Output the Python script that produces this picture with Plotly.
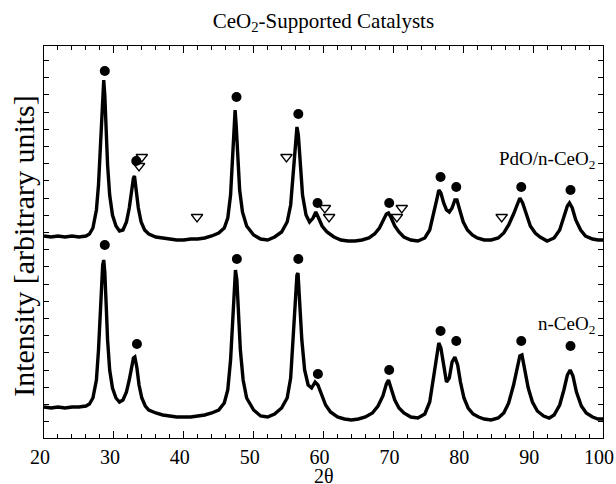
import plotly.graph_objects as go

# ---- data (arbitrary intensity units) ----
tt_pdo = [20.0, 21, 22, 23, 24, 25, 26, 26.5, 27.0, 27.5, 27.8, 28.0, 28.2, 28.4, 28.55, 28.7, 28.9, 29.1, 29.4, 29.8,
          30.3, 30.8, 31.3, 31.8, 32.2, 32.5, 32.8, 32.95, 33.2, 33.5, 33.9, 34.4, 35, 36, 37, 38, 39, 40, 41, 42,
          43, 44, 45, 45.8, 46.3, 46.7, 47.0, 47.2, 47.35, 47.5, 47.7, 48.0, 48.4, 49, 50, 51, 52, 53, 54, 54.8,
          55.3, 55.7, 56.0, 56.2, 56.4, 56.7, 57.0, 57.5, 58.0, 58.5, 58.9, 59.3, 59.8, 60.5, 61.5, 62.5, 63.5, 64.5,
          65.5, 66.5, 67.3, 68.0, 68.6, 69.0, 69.3, 69.7, 70.2, 70.8, 71.5, 72.5, 73.5, 74.5, 75.2, 75.8, 76.2, 76.5,
          76.8, 77.2, 77.6, 78.0, 78.4, 78.8, 79.1, 79.5, 80.0, 80.6, 81.3, 82.0, 83, 84, 85, 85.8, 86.5, 87.2, 87.7,
          88.1, 88.5, 89.0, 89.6, 90.3, 91, 92, 93, 93.8, 94.4, 94.9, 95.2, 95.6, 96.1, 96.8, 97.5, 98.5, 99.3, 100]
int_pdo = [202, 201, 202, 201, 202, 201, 202, 204, 210, 228, 253, 283, 318, 348, 358, 343, 308, 273, 243, 223,
           212, 207, 208, 216, 230, 246, 260, 262, 248, 230, 216, 208, 204, 201, 200, 199, 198, 198, 199, 199,
           200, 202, 205, 210, 220, 243, 283, 313, 328, 313, 283, 248, 226, 212, 203, 199, 198, 201, 206, 216,
           233, 268, 298, 311, 303, 273, 243, 223, 216, 220, 226, 220, 212, 206, 201, 198, 197, 197,
           198, 200, 204, 210, 218, 224, 225, 220, 212, 206, 201, 198, 197, 200, 208, 224, 238, 248,
           245, 235, 228, 226, 230, 238, 238, 228, 216, 208, 203, 200, 198, 198, 200, 205, 213, 224, 234,
           240, 235, 224, 212, 205, 201, 197, 200, 208, 220, 232, 235, 230, 218, 208, 202, 199, 198, 198]

tt_ceo2 = [20, 21, 22, 23, 24, 25, 26, 26.5, 27, 27.5, 27.8, 28.0, 28.2, 28.4, 28.55, 28.7, 28.9, 29.1, 29.4, 29.8,
           30.3, 30.8, 31.3, 31.8, 32.2, 32.5, 32.8, 33.0, 33.3, 33.6, 34.0, 34.5, 35, 36, 37, 38, 39, 40, 41, 42,
           43, 44, 45, 45.8, 46.3, 46.7, 47.0, 47.2, 47.4, 47.6, 47.8, 48.1, 48.5, 49, 50, 51, 52, 53, 54, 54.8,
           55.3, 55.7, 56.0, 56.2, 56.35, 56.6, 56.9, 57.3, 57.8, 58.3, 58.8, 59.2, 59.7, 60.3, 61, 62, 63, 64,
           65, 66, 67, 67.8, 68.5, 69.0, 69.3, 69.7, 70.2, 70.8, 71.5, 72.5, 73.5, 74.5, 75.2, 75.8, 76.2, 76.5,
           76.8, 77.2, 77.6, 78.0, 78.4, 78.8, 79.2, 79.6, 80.1, 80.7, 81.4, 82.2, 83, 84, 85, 85.8, 86.5, 87.2, 87.7,
           88.1, 88.4, 88.8, 89.3, 89.9, 90.6, 91.5, 92.3, 93, 93.8, 94.4, 94.9, 95.3, 95.7, 96.2, 96.9, 97.6, 98.5,
           99.3, 100]
int_ceo2 = [31, 30, 31, 30, 31, 31, 32, 34, 40, 58, 88, 123, 153, 173, 178, 166, 133, 98, 68, 50,
            40, 36, 38, 46, 58, 70, 80, 81, 70, 53, 40, 32, 28, 25, 23, 22, 21, 21, 21, 22,
            23, 25, 28, 35, 48, 78, 123, 153, 168, 158, 128, 88, 58, 40, 28, 22, 21, 24, 30, 40,
            60, 103, 143, 163, 165, 138, 98, 68, 53, 50, 56, 53, 43, 33, 26, 21, 19, 18,
            19, 21, 25, 32, 42, 54, 58, 50, 38, 30, 25, 21, 20, 24, 36, 63, 83, 95,
            90, 70, 56, 60, 76, 81, 73, 56, 40, 30, 24, 21, 19, 18, 20, 25, 35, 53, 71,
            82, 83, 68, 50, 36, 27, 22, 20, 23, 33, 48, 63, 68, 62, 46, 32, 25, 21,
            19, 19]

# reflection markers
ceo2_dots_pdo_x = [28.7, 33.2, 47.55, 56.4, 59.15, 69.4, 76.75, 79.0, 88.3, 95.35]
ceo2_dots_pdo_y = [367, 277, 341, 324, 235, 235, 261, 251, 251, 248]
pdo_tri_x = [33.6, 34.0, 41.9, 54.7, 60.2, 60.8, 70.5, 71.2, 85.5]
pdo_tri_y = [272, 281, 221, 281, 230, 221, 221, 230, 221]
ceo2_dots_x = [28.7, 33.3, 47.6, 56.4, 59.2, 69.4, 76.75, 79.0, 88.3, 95.35]
ceo2_dots_y = [193, 94, 179, 179, 64, 68, 107, 97, 97, 92]

x_ticks = [20, 30, 40, 50, 60, 70, 80, 90, 100]

FONT = "Liberation Serif"

fig = go.Figure()
fig.add_trace(go.Scatter(x=tt_pdo, y=int_pdo, mode="lines", line=dict(color="black", width=3.4), showlegend=False))
fig.add_trace(go.Scatter(x=tt_ceo2, y=int_ceo2, mode="lines", line=dict(color="black", width=3.4), showlegend=False))
fig.add_trace(go.Scatter(x=ceo2_dots_pdo_x + ceo2_dots_x, y=ceo2_dots_pdo_y + ceo2_dots_y, mode="markers",
                         marker=dict(symbol="circle", size=10, color="black"), showlegend=False))
fig.add_trace(go.Scatter(x=pdo_tri_x, y=pdo_tri_y, mode="markers",
                         marker=dict(symbol="triangle-down-open", size=10, color="black", line=dict(width=1.3)),
                         showlegend=False))
# invisible traces so the mirrored tick axes are drawn
fig.add_trace(go.Scatter(x=[20, 100], y=[0, 0], xaxis="x2", yaxis="y", mode="lines",
                         line=dict(width=0), hoverinfo="skip", showlegend=False))
fig.add_trace(go.Scatter(x=[20, 100], y=[0, 0], xaxis="x", yaxis="y2", mode="lines",
                         line=dict(width=0), hoverinfo="skip", showlegend=False))

fig.add_annotation(text="PdO/n-CeO<sub>2</sub>", x=1, xref="paper", xanchor="right", xshift=-6,
                   y=278, yref="y", yanchor="middle", showarrow=False, font=dict(family=FONT, size=19, color="black"))
fig.add_annotation(text="n-CeO<sub>2</sub>", x=1, xref="paper", xanchor="right", xshift=-6,
                   y=113, yref="y", yanchor="middle", showarrow=False, font=dict(family=FONT, size=19, color="black"))
fig.add_annotation(text="Intensity [arbitrary units]", textangle=-90, x=-0.036, xref="paper", xanchor="center",
                   y=0.49, yref="paper", yanchor="middle", showarrow=False,
                   font=dict(family=FONT, size=30, color="black"))
fig.add_annotation(text="2θ", x=0.5, xref="paper", xanchor="center",
                   y=-0.096, yref="paper", yanchor="middle", showarrow=False,
                   font=dict(family=FONT, size=20, color="black"))

minor_x = dict(dtick=2, tick0=20, ticks="inside", ticklen=4, tickwidth=1, tickcolor="black")

fig.update_layout(
    template="none",
    width=616, height=484,
    margin=dict(l=44, r=13, t=46, b=46, autoexpand=False),
    paper_bgcolor="white", plot_bgcolor="white",
    font=dict(family=FONT, size=21, color="black"),
    title=dict(text="CeO<sub>2</sub>-Supported Catalysts", x=0.525, xanchor="center", y=0.958, yanchor="middle",
               font=dict(family=FONT, size=21, color="black")),
    xaxis=dict(range=[20, 100], tickvals=x_ticks, ticktext=[str(v) for v in x_ticks], automargin=False,
               ticks="inside", ticklen=7, tickwidth=1, tickcolor="black", minor=minor_x,
               showline=True, linecolor="black", linewidth=1.3, mirror=True, showgrid=False, zeroline=False,
               ticklabelstandoff=1, ticklabelshift=-4, ticklabeloverflow="allow",
               tickfont=dict(family=FONT, size=20)),
    xaxis2=dict(range=[20, 100], overlaying="x", side="top", tickvals=x_ticks, showticklabels=False,
                ticks="inside", ticklen=7, tickwidth=1, tickcolor="black", minor=minor_x, automargin=False,
                showline=False, showgrid=False, zeroline=False),
    yaxis=dict(range=[0, 392], tick0=-0.9, dtick=17.2, ticks="inside", ticklen=5, tickwidth=1, tickcolor="black",
               showticklabels=False, showline=True, linecolor="black", linewidth=1.3, mirror=True,
               showgrid=False, zeroline=False, automargin=False),
    yaxis2=dict(range=[0, 392], overlaying="y", side="right", tick0=-0.9, dtick=17.2, ticks="inside", ticklen=5,
                tickwidth=1, tickcolor="black", showticklabels=False, showline=False, showgrid=False,
                zeroline=False, automargin=False),
)

fig.write_html("out.html")
